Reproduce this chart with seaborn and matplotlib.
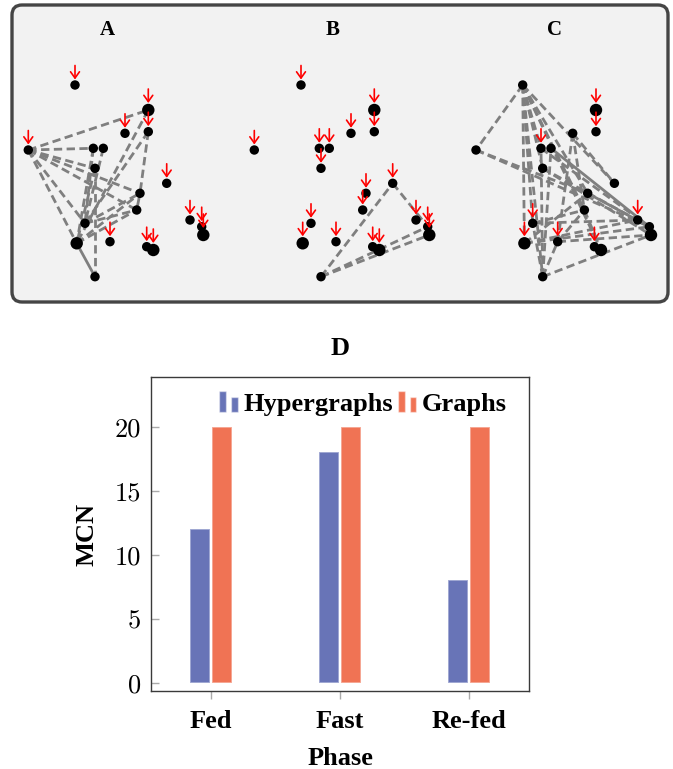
import numpy as np
import pandas as pd
import seaborn as sns
import matplotlib.pyplot as plt
from matplotlib.patches import FancyBboxPatch, Rectangle
from matplotlib.legend_handler import HandlerBase

# --- network panels (same node layout in A, B, C) ---
node_x = [75, 148.3, 125, 148.3, 28.3, 93.3, 103.3, 95, 166.7, 140,
          136.7, 190, 201.7, 203.3, 85, 76.7, 110, 146.7, 153.3, 95]
node_y = [85, 110, 133.3, 131.7, 150, 148.3, 148.3, 168.3, 183.3, 193.3,
          210, 220, 226.7, 235, 223.3, 243.3, 241.7, 246.7, 250, 276.7]
node_big = [0, 1, 0, 0, 0, 0, 0, 0, 0, 0,
            0, 0, 0, 1, 0, 1, 0, 0, 1, 0]

panel_titles = ['A', 'B', 'C']
# nodes (1-based) marked with a red arrow
arrows = {
    'A': [1, 2, 3, 4, 5, 9, 12, 13, 14, 17, 18, 19],
    'B': [1, 2, 3, 4, 5, 6, 7, 8, 9, 10, 11, 12, 13, 14, 15, 16, 17, 18, 19],
    'C': [2, 4, 6, 12, 15, 16, 17, 18],
}
dashed_edges = {
    'A': [(5, 2), (5, 6), (5, 8), (5, 10), (5, 11), (5, 15), (5, 16), (2, 16),
          (4, 15), (4, 10), (6, 16), (6, 15), (7, 15), (8, 20), (15, 10),
          (16, 11), (15, 11), (16, 10), (8, 16)],
    'B': [(20, 9), (9, 13), (20, 13), (20, 14)],
    'C': [(1, 5), (1, 8), (1, 15), (1, 16), (1, 20), (1, 10), (1, 9), (1, 11),
          (1, 6), (1, 19), (5, 10), (5, 13), (20, 14), (20, 6), (20, 7),
          (20, 15), (20, 17), (16, 12), (16, 13), (16, 10), (17, 14), (17, 11),
          (3, 9), (3, 11), (3, 17), (11, 19), (8, 14), (6, 13), (15, 11),
          (8, 13), (15, 12)],
}
solid_edges = {
    'A': [(10, 11), (16, 20)],
    'B': [],
    'C': [(7, 13), (10, 13)],
}

# --- bar chart D ---
phases = ['Fed', 'Fast', 'Re-fed']
hyper_mcn = [12, 18, 8]
graph_mcn = [20, 20, 20]
methods = ['Hypergraphs', 'Graphs']
bar_colors = ['#6874b7', '#f07354']

sns.set_style('white')
serif = ['Liberation Serif', 'DejaVu Serif']
plt.rcParams['font.family'] = serif
plt.rcParams['text.color'] = 'black'
plt.rcParams['axes.labelcolor'] = 'black'
plt.rcParams['xtick.labelcolor'] = 'black'
plt.rcParams['ytick.labelcolor'] = 'black'

W, H = 673, 769
fig = plt.figure(figsize=(W / 100, H / 100), dpi=100)

# rounded frame behind the three network panels
box = FancyBboxPatch((12 / 100, (H - 302) / 100), 656 / 100, 297 / 100,
                     boxstyle='round,pad=0,rounding_size=0.1',
                     transform=fig.dpi_scale_trans, facecolor='#f2f2f2',
                     edgecolor='#454545', linewidth=2.4, zorder=0)
fig.add_artist(box)

offsets = [0, 226, 447.7]
xlo, xhi = 18, 214
ylo, yhi = 12, 290
for title, off in zip(panel_titles, offsets):
    ax = fig.add_axes([(xlo + off) / W, (H - yhi) / H, (xhi - xlo) / W, (yhi - ylo) / H])
    ax.set_xlim(xlo, xhi)
    ax.set_ylim(yhi, ylo)
    ax.axis('off')
    ax.patch.set_alpha(0)
    for a, b in dashed_edges[title]:
        ax.plot([node_x[a - 1], node_x[b - 1]], [node_y[a - 1], node_y[b - 1]],
                color='#7f7f7f', lw=2, ls=(0, (3, 1.6)), zorder=1)
    for a, b in solid_edges[title]:
        ax.plot([node_x[a - 1], node_x[b - 1]], [node_y[a - 1], node_y[b - 1]],
                color='#7f7f7f', lw=2, zorder=1)
    sizes = [80 if b else 46 for b in node_big]
    ax.scatter(node_x, node_y, s=sizes, color='black', zorder=3, linewidths=0)
    for n in arrows[title]:
        x, y = node_x[n - 1], node_y[n - 1]
        r = 6 if node_big[n - 1] else 4.5
        ax.annotate('', xy=(x, y - r - 1), xytext=(x, y - r - 15),
                    arrowprops=dict(arrowstyle='->,head_length=0.45,head_width=0.32',
                                    color='red', lw=1.2, shrinkA=0, shrinkB=0),
                    zorder=4)
    ax.text(107, 30, title, ha='center', va='center', fontsize=15,
            fontweight='bold', family=serif, color='black')

# --- panel D ---
df = pd.DataFrame({
    'Phase': phases * 2,
    'MCN': hyper_mcn + graph_mcn,
    'Method': [methods[0]] * 3 + [methods[1]] * 3,
})
axd = fig.add_axes([151 / W, (H - 691) / H, 378 / W, 314 / H])
sns.barplot(data=df, x='Phase', y='MCN', hue='Method', hue_order=methods,
            palette=bar_colors, saturation=1, width=0.35, gap=0.1, legend=False,
            edgecolor=(1, 1, 1, 0.45), linewidth=1.2, ax=axd)
axd.set_xlim(-0.465, 2.465)
axd.set_ylim(-0.65, 23.9)
axd.set_yticks([0, 5, 10, 15, 20])
for s in axd.spines.values():
    s.set_visible(True)
    s.set_color('#3a3a3a')
    s.set_linewidth(1)
axd.tick_params(axis='y', direction='in', length=6, width=1, color='#aaaaaa',
                labelcolor='black', pad=7, left=True)
axd.tick_params(axis='x', direction='out', length=6, width=1, color='#aaaaaa',
                labelcolor='black', pad=8, bottom=True)
for lab in axd.get_yticklabels():
    lab.set_fontfamily('cmr10')
    lab.set_fontsize(19)
for lab in axd.get_xticklabels():
    lab.set_fontweight('bold')
    lab.set_fontsize(19)
axd.set_xlabel('Phase', fontsize=19, fontweight='bold', labelpad=10, color='black')
axd.set_ylabel('MCN', fontsize=19, fontweight='bold', labelpad=12, color='black')
fig.text(340 / W, 1 - 349 / H, 'D', ha='center', va='center', fontsize=19,
         fontweight='bold', color='black')


class TwinBar(HandlerBase):
    def create_artists(self, legend, orig_handle, xdescent, ydescent,
                       width, height, fontsize, trans):
        fc = orig_handle.get_facecolor()
        x0, y0 = -xdescent, -ydescent
        bw = width * 0.36
        r1 = Rectangle((x0, y0), bw, height, facecolor=fc,
                       edgecolor=(1, 1, 1, 0.45), lw=1, transform=trans)
        r2 = Rectangle((x0 + width - bw, y0), bw, height * 0.75, facecolor=fc,
                       edgecolor=(1, 1, 1, 0.45), lw=1, transform=trans)
        return [r1, r2]


handles = [Rectangle((0, 0), 1, 1, facecolor=c) for c in bar_colors]
axd.legend(handles, methods, handler_map={Rectangle: TwinBar()}, ncol=2,
           loc='center', bbox_to_anchor=(0.561, 0.915), frameon=False,
           prop={'family': serif, 'weight': 'bold', 'size': 19},
           handlelength=0.7, handleheight=0.85, handletextpad=0.2,
           columnspacing=0.2, borderpad=0, borderaxespad=0, labelcolor='black')

plt.savefig('out.png', dpi=100)
plt.close()
